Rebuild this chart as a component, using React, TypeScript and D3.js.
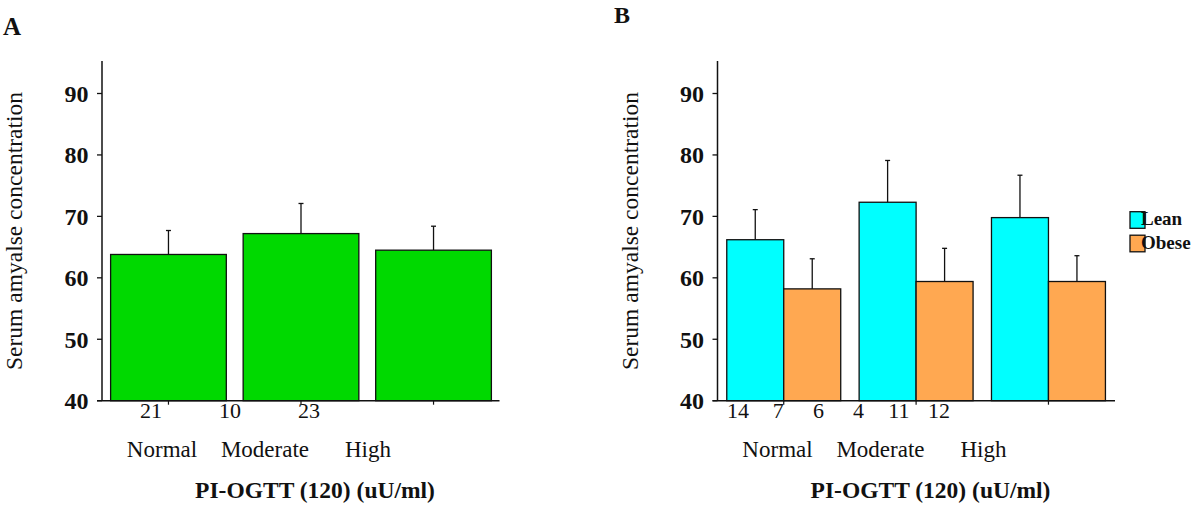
import React from "react";
import * as d3 from "d3";

// ---------- data ----------
const categories = ["Normal", "Moderate", "High"];

// Panel A: all subjects
const aMeans = [63.8, 67.2, 64.5];
const aErrors = [3.9, 4.9, 3.9];
const aCounts = ["21", "10", "23"];

// Panel B: lean vs obese
const groups = ["Lean", "Obese"];
const leanMeans = [66.2, 72.3, 69.8];
const leanErrors = [4.9, 6.8, 6.9];
const obeseMeans = [58.2, 59.4, 59.4];
const obeseErrors = [4.9, 5.4, 4.2];
const bCounts = ["14", "7", "6", "4", "11", "12"];

const yTicks = [40, 50, 60, 70, 80, 90];
const yTitle = "Serum amyalse concentration";
const xTitle = "PI-OGTT (120) (uU/ml)";

// ---------- styles ----------
const FONT = '"Liberation Serif", "Times New Roman", serif';
const GREEN = "#00d900";
const CYAN = "#00ffff";
const ORANGE = "#ffa851";
const INK = "#111";

const W = 1200;
const H = 506;
const top = 61;
const bottom = 400.7;

const y = d3.scaleLinear().domain([40, 90]).range([bottom, 93.5]);

type PanelProps = { axisX: number; children?: React.ReactNode; countLabels: string[]; countRange: [number, number] };

function PanelFrame({ axisX, children, countLabels, countRange }: PanelProps) {
  const axisEnd = axisX + 397.5;
  const catPos = d3.scalePoint<string>().domain(categories).range([axisX + 60, axisX + 266]);
  const cntPos = d3.scalePoint<string>().domain(countLabels.map((_, i) => String(i))).range(countRange);
  return (
    <g>
      {children}
      {/* y axis */}
      <line x1={axisX} x2={axisX} y1={top} y2={bottom} stroke={INK} strokeWidth={1.5} />
      {yTicks.map((t) => (
        <g key={t}>
          <line x1={axisX - 5} x2={axisX} y1={y(t)} y2={y(t)} stroke={INK} strokeWidth={1.3} />
          <text x={axisX - 13.5} y={y(t)} dy="0.35em" textAnchor="end" fontFamily={FONT} fontWeight="bold" fontSize={24} fill={INK}>
            {t}
          </text>
        </g>
      ))}
      {/* x axis */}
      <line x1={axisX - 5} x2={axisEnd} y1={bottom} y2={bottom} stroke={INK} strokeWidth={1.5} />
      {countLabels.map((c, i) => (
        <text key={i} x={cntPos(String(i))} y={418.3} textAnchor="middle" fontFamily={FONT} fontSize={22} fill={INK}>
          {c}
        </text>
      ))}
      {categories.map((c) => (
        <text key={c} x={catPos(c)} y={456.7} textAnchor="middle" fontFamily={FONT} fontSize={23} fill={INK}>
          {c}
        </text>
      ))}
      <text x={axisX + 213} y={498} textAnchor="middle" fontFamily={FONT} fontWeight="bold" fontSize={23.5} fill={INK}>
        {xTitle}
      </text>
      <text
        transform={`translate(${axisX - 80},${231}) rotate(-90)`}
        textAnchor="middle"
        fontFamily={FONT}
        fontSize={23.5}
        fill={INK}
      >
        {yTitle}
      </text>
    </g>
  );
}

function ErrorBar({ x, v, e }: { x: number; v: number; e: number }) {
  return (
    <g stroke={INK} strokeWidth={1.3}>
      <line x1={x} x2={x} y1={y(v)} y2={y(v + e)} />
      <line x1={x - 2.5} x2={x + 2.5} y1={y(v + e)} y2={y(v + e)} />
    </g>
  );
}

export default function App() {
  const axA = 102;
  const axB = 717.5;

  const xA = d3.scaleBand<string>().domain(categories).range([axA, axA + 398]).paddingInner(0.127).paddingOuter(0.065);
  const xB = d3.scaleBand<string>().domain(categories).range([axB, axB + 397.2]).paddingInner(0.139).paddingOuter(0.07);
  const xSub = d3.scaleBand<string>().domain(groups).range([0, xB.bandwidth()]);

  const bSeries = [
    { name: "Lean", means: leanMeans, errs: leanErrors, color: CYAN },
    { name: "Obese", means: obeseMeans, errs: obeseErrors, color: ORANGE },
  ];

  return (
    <svg width={W} height={H} style={{ position: "absolute", left: 0, top: 0, background: "#fff" }}>
      <rect width={W} height={H} fill="#fff" />
      {/* panel letters */}
      <text x={3} y={35} fontFamily={FONT} fontWeight="bold" fontSize={25} fill={INK}>A</text>
      <text x={614} y={23} fontFamily={FONT} fontWeight="bold" fontSize={24} fill={INK}>B</text>

      {/* Panel A */}
      <PanelFrame axisX={axA} countLabels={aCounts} countRange={[151, 309]}>
        {categories.map((c, i) => (
          <g key={c}>
            <ErrorBar x={(xA(c) as number) + xA.bandwidth() / 2} v={aMeans[i]} e={aErrors[i]} />
            <rect
              x={xA(c)}
              y={y(aMeans[i])}
              width={xA.bandwidth()}
              height={bottom - y(aMeans[i])}
              fill={GREEN}
              stroke={INK}
              strokeWidth={1.3}
            />
            <line
              x1={(xA(c) as number) + xA.bandwidth() / 2}
              x2={(xA(c) as number) + xA.bandwidth() / 2}
              y1={bottom}
              y2={bottom + 4}
              stroke={INK}
              strokeWidth={1.2}
            />
          </g>
        ))}
      </PanelFrame>

      {/* Panel B */}
      <PanelFrame axisX={axB} countLabels={bCounts} countRange={[738, 939]}>
        {categories.map((c, i) => (
          <g key={c}>
            {bSeries.map((s) => {
              const bx = (xB(c) as number) + (xSub(s.name) as number);
              return (
                <g key={s.name}>
                  <ErrorBar x={bx + xSub.bandwidth() / 2} v={s.means[i]} e={s.errs[i]} />
                  <rect
                    x={bx}
                    y={y(s.means[i])}
                    width={xSub.bandwidth()}
                    height={bottom - y(s.means[i])}
                    fill={s.color}
                    stroke={INK}
                    strokeWidth={1.3}
                  />
                </g>
              );
            })}
            <line
              x1={(xB(c) as number) + xB.bandwidth() / 2}
              x2={(xB(c) as number) + xB.bandwidth() / 2}
              y1={bottom}
              y2={bottom + 4}
              stroke={INK}
              strokeWidth={1.2}
            />
          </g>
        ))}
      </PanelFrame>

      {/* Legend */}
      {bSeries.map((s, i) => (
        <g key={s.name}>
          <rect x={1130} y={211.7 + i * 23.5} width={15} height={16.6} fill={s.color} stroke={INK} strokeWidth={1.3} />
          <text x={1141} y={225 + i * 24} fontFamily={FONT} fontWeight="bold" fontSize={19} fill={INK}>
            {s.name}
          </text>
        </g>
      ))}
    </svg>
  );
}
